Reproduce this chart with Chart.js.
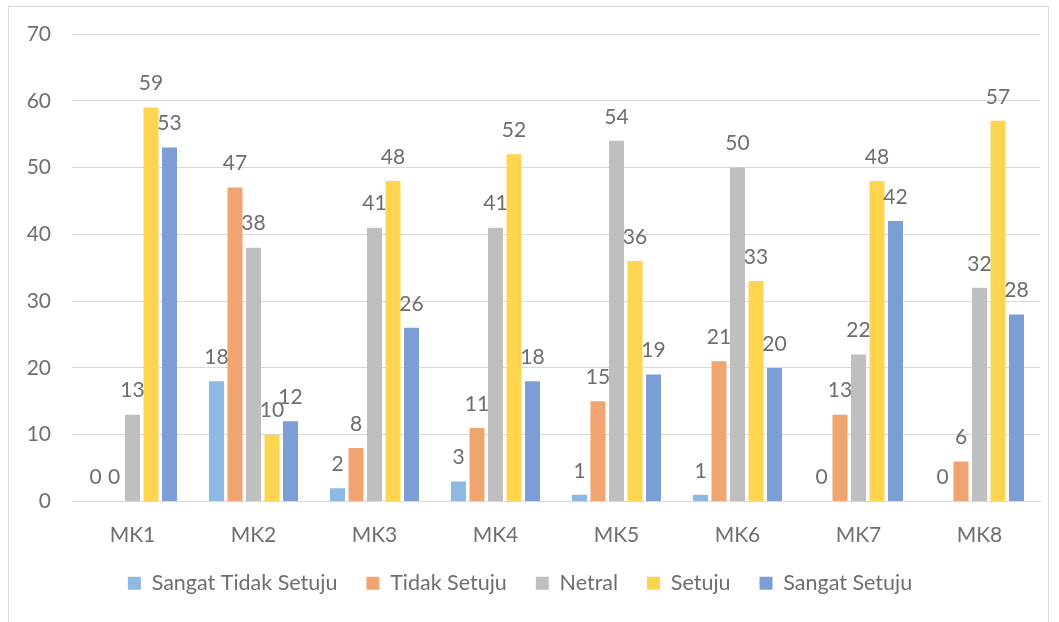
<!DOCTYPE html>
<html>
<head>
<meta charset="utf-8">
<script src="https://cdn.jsdelivr.net/npm/chart.js@4.4.1/dist/chart.umd.min.js"></script>
<style>
  html, body { margin: 0; padding: 0; background: #ffffff; overflow: hidden; }
  #wrap { position: relative; width: 1059px; height: 622px; }
  #frame { position: absolute; left: 8px; top: 6px; width: 1041px; height: 660px; border: 1px solid #d9d9d9; box-sizing: border-box; }
  canvas { position: absolute; left: 0; top: 0; }
</style>
</head>
<body>
<div id="wrap">
  <div id="frame"></div>
  <canvas id="chart" width="1059" height="622"></canvas>
</div>
<script>
const categories = ['MK1', 'MK2', 'MK3', 'MK4', 'MK5', 'MK6', 'MK7', 'MK8'];
const sangatTidakSetuju = [0, 18, 2, 3, 1, 1, 0, 0];
const tidakSetuju       = [0, 47, 8, 11, 15, 21, 13, 6];
const netral            = [13, 38, 41, 41, 54, 50, 22, 32];
const setuju            = [59, 10, 48, 52, 36, 33, 48, 57];
const sangatSetuju      = [53, 12, 26, 18, 19, 20, 42, 28];
const yTicks = [0, 10, 20, 30, 40, 50, 60, 70];

const FONT = 'Lato, "Open Sans", sans-serif';
const TEXT = '#6e6e6e';

// Value labels above each bar, taken from the bar elements Chart.js laid out
const valueLabels = {
  id: 'valueLabels',
  afterDatasetsDraw(chart) {
    const ctx = chart.ctx;
    ctx.save();
    ctx.font = '21px ' + FONT;
    ctx.fillStyle = TEXT;
    ctx.textAlign = 'center';
    ctx.textBaseline = 'middle';
    chart.data.datasets.forEach((ds, i) => {
      const meta = chart.getDatasetMeta(i);
      if (meta.hidden) return;
      meta.data.forEach((bar, j) => {
        ctx.fillText(String(ds.data[j]), bar.x, bar.y - 24);
      });
    });
    ctx.restore();
  }
};

const mk = (label, data, color) => ({
  label, data, backgroundColor: color, borderWidth: 0,
  categoryPercentage: 0.765, barPercentage: 0.81
});

new Chart(document.getElementById('chart'), {
  type: 'bar',
  data: {
    labels: categories,
    datasets: [
      mk('Sangat Tidak Setuju', sangatTidakSetuju, '#8db9e2'),
      mk('Tidak Setuju', tidakSetuju, '#f0a470'),
      mk('Netral', netral, '#bfbfbf'),
      mk('Setuju', setuju, '#ffd44f'),
      mk('Sangat Setuju', sangatSetuju, '#7c9ed6')
    ]
  },
  options: {
    responsive: false,
    animation: false,
    layout: { padding: { top: 34, right: 19, left: 0, bottom: 18 } },
    plugins: {
      tooltip: { enabled: false },
      legend: {
        position: 'bottom',
        labels: {
          font: { family: FONT, size: 21.5 },
          color: TEXT,
          boxWidth: 13,
          boxHeight: 13,
          padding: 29
        }
      }
    },
    scales: {
      x: {
        grid: { display: false, drawTicks: false },
        border: { color: '#d9d9d9', width: 1 },
        ticks: { font: { family: FONT, size: 21 }, color: TEXT, padding: 21 },
        afterFit(s) { s.height = 42; }
      },
      y: {
        min: 0, max: 70,
        afterBuildTicks(s) { s.ticks = yTicks.map(v => ({ value: v })); },
        grid: { color: '#d9d9d9', drawTicks: false },
        border: { display: false },
        ticks: { font: { family: FONT, size: 21 }, color: TEXT, padding: 21 },
        afterFit(s) { s.width = 72; }
      }
    }
  },
  plugins: [valueLabels]
});
</script>
</body>
</html>
